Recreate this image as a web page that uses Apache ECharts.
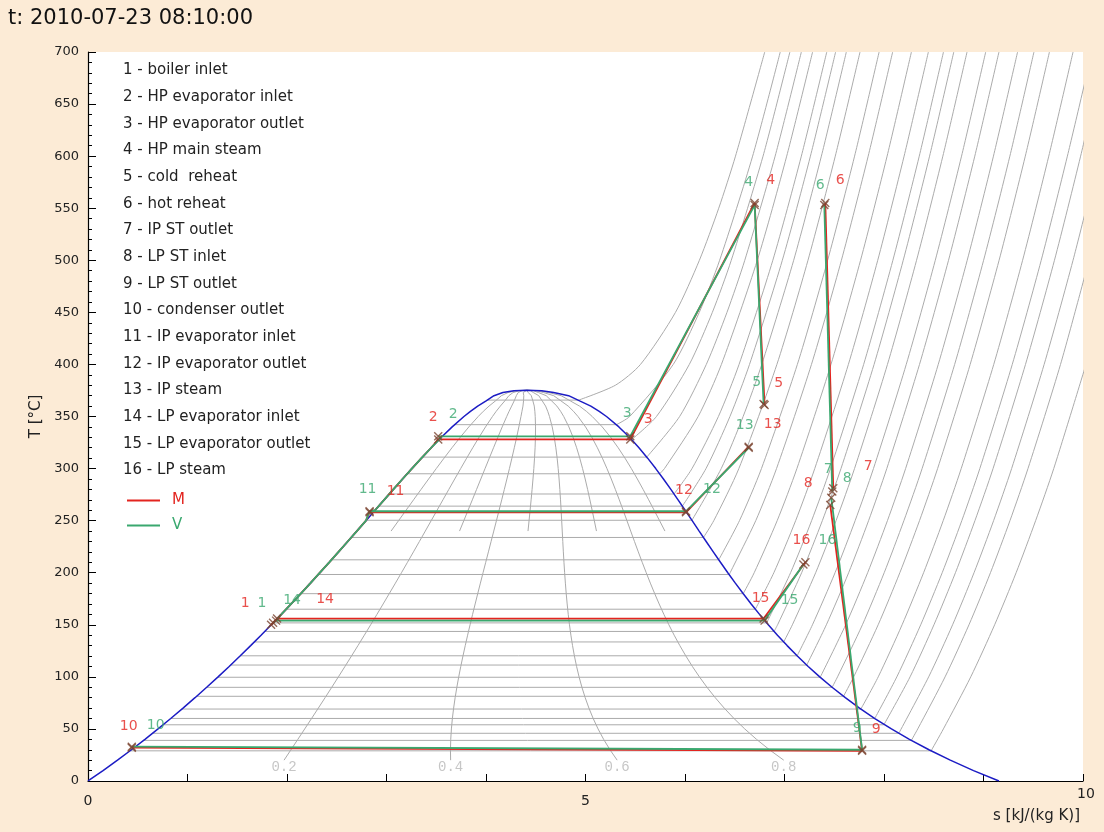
<!DOCTYPE html>
<html><head><meta charset="utf-8">
<script src="https://cdn.jsdelivr.net/npm/echarts@6/dist/echarts.min.js"></script>
<style>html,body{margin:0;padding:0;background:#fcebd6;}#c{width:1104px;height:832px;}</style>
</head><body><div id="c"></div>
<script>
// ---------- saturation dome (T in °C, s in kJ/(kg K)) ----------
const satT  = [0.01,10,20,30,40,50,60,70,80,90,100,110,120,130,140,150,160,170,180,190,200,210,220,230,240,250,260,270,280,290,300,310,320,330,340,350,355,360,365,370,373,374.8];
const satSL = [0,0.1511,0.2965,0.4368,0.5724,0.7038,0.8313,0.9551,1.0756,1.1929,1.3072,1.4188,1.5279,1.6346,1.7392,1.8418,1.9426,2.0417,2.1392,2.2355,2.3305,2.4245,2.5177,2.6101,2.7020,2.7935,2.8849,2.9765,3.0685,3.1612,3.2552,3.3510,3.4494,3.5518,3.6601,3.7784,3.8438,3.9167,4.0014,4.0800,4.1700,4.2800];
const satSV = [9.1556,8.8999,8.6661,8.4520,8.2555,8.0748,7.9081,7.7540,7.6111,7.4781,7.3541,7.2381,7.1291,7.0264,6.9293,6.8371,6.7491,6.6650,6.5840,6.5059,6.4302,6.3563,6.2840,6.2128,6.1423,6.0721,6.0016,5.9304,5.8579,5.7834,5.7059,5.6244,5.5372,5.4422,5.3356,5.2110,5.1380,5.0536,4.9412,4.8300,4.6800,4.5600];
const apexS = 4.41, apexT = 375.2;

// ---------- quality lines ----------
const qualityMain  = [0.2,0.4,0.6,0.8];
const qualityMinor = [0.1,0.3,0.5,0.7,0.9];
const qualityMainFromT = 20, qualityMinorFromT = 240;

// ---------- isobars (bar) ----------
const isoP    = [0.04,0.07,0.1,0.15,0.2,0.3,0.5,0.7,1,1.5,2,3,4,5,7,10,15,20,30,40,50,60,80,100,125,150,200];
const isoTsat = [28.96,39.0,45.81,53.97,60.06,69.09,81.32,89.95,99.61,111.35,120.21,133.52,143.61,151.83,164.95,179.88,198.29,212.38,233.85,250.35,263.94,275.59,295.01,311.0,327.81,342.16,365.75];
const isoSf   = [0.4224,0.5590,0.6492,0.7549,0.8320,0.9439,1.0912,1.1919,1.3028,1.4337,1.5302,1.6717,1.7765,1.8604,1.9918,2.1381,2.3143,2.4468,2.6454,2.7966,2.9207,3.0275,3.2077,3.3603,3.4969,3.6848,4.0146];
const isoSg   = [8.4734,8.2750,8.1488,7.9987,7.9072,7.7675,7.5931,7.4789,7.3589,7.2231,7.1270,6.9917,6.8955,6.8207,6.7071,6.5850,6.4448,6.3390,6.1856,6.0696,5.9737,5.8902,5.7450,5.6159,5.4638,5.3108,4.9310];
const sup_0_04 = [[8.597,50],[8.872,100],[9.112,150],[9.328,200],[9.524,250],[9.706,300],[10.03,400]];
const sup_0_07 = [[8.339,50],[8.614,100],[8.854,150],[9.070,200],[9.266,250],[9.447,300],[9.774,400],[10.06,500]];
const sup_0_1  = [[8.4489,100],[8.6893,150],[8.9049,200],[9.1015,250],[9.2827,300],[9.6094,400],[9.8998,500],[10.1631,600]];
const sup_0_15 = [[8.262,100],[8.502,150],[8.718,200],[8.914,250],[9.096,300],[9.422,400],[9.713,500],[9.976,600],[10.22,700]];
const sup_0_2  = [[8.129,100],[8.369,150],[8.585,200],[8.782,250],[8.963,300],[9.289,400],[9.580,500],[9.843,600],[10.09,700]];
const sup_0_3  = [[7.942,100],[8.182,150],[8.398,200],[8.595,250],[8.776,300],[9.103,400],[9.393,500],[9.656,600],[9.90,700]];
const sup_0_5  = [[7.6953,100],[7.9413,150],[8.1592,200],[8.3568,250],[8.5387,300],[8.8659,400],[9.1566,500],[9.4201,600],[9.6626,700]];
const sup_0_7  = [[7.533,100],[7.783,150],[8.002,200],[8.200,250],[8.383,300],[8.710,400],[9.001,500],[9.265,600],[9.507,700]];
const sup_1    = [[7.6148,150],[7.8356,200],[8.0346,250],[8.2171,300],[8.5452,400],[8.8362,500],[9.0999,600],[9.3424,700]];
const sup_1_5  = [[7.4208,150],[7.6447,200],[7.8451,250],[8.0280,300],[8.3568,400],[8.6484,500],[8.9124,600],[9.1553,700]];
const sup_2    = [[7.2810,150],[7.5081,200],[7.7100,250],[7.8941,300],[8.2236,400],[8.5153,500],[8.7793,600],[9.0221,700]];
const sup_3    = [[7.0792,150],[7.3132,200],[7.5181,250],[7.7037,300],[8.0347,400],[8.3271,500],[8.5915,600],[8.8345,700]];
const sup_4    = [[6.9306,150],[7.1723,200],[7.3804,250],[7.5677,300],[7.9003,400],[8.1933,500],[8.4580,600],[8.7012,700]];
const sup_5    = [[7.0611,200],[7.2726,250],[7.4614,300],[7.7954,400],[8.0891,500],[8.3543,600],[8.5977,700]];
const sup_7    = [[6.893,200],[7.112,250],[7.304,300],[7.642,400],[7.937,500],[8.202,600],[8.446,700]];
const sup_10   = [[6.6956,200],[6.9265,250],[7.1246,300],[7.4670,400],[7.7642,500],[8.0311,600],[8.2755,700]];
const sup_15   = [[6.4537,200],[6.7111,250],[6.9198,300],[7.2709,400],[7.5718,500],[7.8410,600],[8.0869,700]];
const sup_20   = [[6.5475,250],[6.7684,300],[7.1292,400],[7.4337,500],[7.7043,600],[7.9509,700]];
const sup_30   = [[6.2893,250],[6.5412,300],[6.9235,400],[7.2359,500],[7.5103,600],[7.7590,700]];
const sup_40   = [[6.3639,300],[6.5843,350],[6.7714,400],[7.0922,500],[7.3706,600],[7.6214,700]];
const sup_50   = [[6.2110,300],[6.4516,350],[6.6483,400],[6.9781,500],[7.2605,600],[7.5136,700]];
const sup_60   = [[6.0703,300],[6.3357,350],[6.5432,400],[6.8826,500],[7.1693,600],[7.4247,700]];
const sup_80   = [[5.7937,300],[6.1321,350],[6.3658,400],[6.7266,500],[7.0221,600],[7.2822,700]];
const sup_100  = [[5.9460,350],[6.2141,400],[6.4219,450],[6.6007,500],[6.9058,600],[7.1693,700]];
const sup_125  = [[5.7130,350],[6.0433,400],[6.2749,450],[6.4651,500],[6.7843,600],[7.0540,700]];
const sup_150  = [[5.4438,350],[5.8819,400],[6.1434,450],[6.3480,500],[6.6796,600],[6.9573,700]];
const sup_200  = [[5.3000,380],[5.5526,400],[5.9043,450],[6.1446,500],[6.3390,550],[6.5075,600],[6.8012,700]];
const isoSuper = [sup_0_04,sup_0_07,sup_0_1,sup_0_15,sup_0_2,sup_0_3,sup_0_5,sup_0_7,sup_1,sup_1_5,sup_2,sup_3,sup_4,sup_5,sup_7,sup_10,sup_15,sup_20,sup_30,sup_40,sup_50,sup_60,sup_80,sup_100,sup_125,sup_150,sup_200];

// ---------- cycle state points 1..16 ----------
const pointNames = ['1','2','3','4','5','6','7','8','9','10','11','12','13','14','15','16'];
const legendLines = ['1 - boiler inlet','2 - HP evaporator inlet','3 - HP evaporator outlet','4 - HP main steam','5 - cold  reheat','6 - hot reheat','7 - IP ST outlet','8 - LP ST inlet','9 - LP ST outlet','10 - condenser outlet','11 - IP evaporator inlet','12 - IP evaporator outlet','13 - IP steam','14 - LP evaporator inlet','15 - LP evaporator outlet','16 - LP steam'];
const mS = [1.84,3.52,5.45,6.70,6.80,7.41,7.49,7.46,7.78,0.44,2.83,6.01,6.64,1.90,6.79,7.21];
const mT = [150,328,328,555,361,555,281,265,29,32,258,258,321,156,156,210];
const vS = [1.86,3.52,5.45,6.70,6.79,7.40,7.48,7.47,7.78,0.44,2.83,6.01,6.64,1.89,6.80,7.19];
const vT = [152,331,331,553,362,553,278,272,30,33,259,259,320,154,154,208];
// connections ('L' = follow saturated-liquid line)
const cyclePaths = [[9,10],[1,14],[14,15,16],[14,'L',11,12,13],[11,'L',2,3,4,5],[6,7],[8,9]];

// ---------- styles ----------
const RED = '#e3241f', GREEN = '#3aa86f', GRAY = '#ababab', BLUE = '#1c1cc4';
const FONT = 'DejaVu Sans';
const mLabelOff = [[-26,-21],[-5,-22],[18,-20],[16,-23],[14,-22],[15,-23],[35,-22],[-22,-22],[14,-21],[-3,-21],[26,-21],[-2,-22],[24,-22],[48,-19],[-3,-20],[-4,-22]];
const vLabelOff = [[-11,-19],[15,-22],[-3,-23],[-6,-23],[-7,-22],[-4,-20],[-4,-22],[16,-19],[-5,-21],[24,-21],[-2,-22],[26,-22],[-4,-22],[16,-20],[25,-20],[24,-24]];

const series = [];
// isobars
isoP.forEach((p,i)=>{
  series.push({type:'line', data:[[isoSf[i],isoTsat[i]],[isoSg[i],isoTsat[i]]], symbol:'none', silent:true, z:1,
    lineStyle:{color:GRAY,width:1}});
  series.push({type:'line', data:[[isoSg[i],isoTsat[i]]].concat(isoSuper[i]), symbol:'none', silent:true, z:1,
    smooth:0.25, lineStyle:{color:GRAY,width:1}});
});
// quality lines
function qualityLine(x, fromT){
  const pts=[];
  satT.forEach((t,j)=>{ if(t>=fromT) pts.push([satSL[j]+x*(satSV[j]-satSL[j]), t]); });
  pts.push([apexS, apexT]);
  return pts;
}
qualityMain.forEach(x=>series.push({type:'line', data:qualityLine(x,qualityMainFromT), symbol:'none', silent:true, z:1, lineStyle:{color:GRAY,width:1}}));
qualityMinor.forEach(x=>series.push({type:'line', data:qualityLine(x,qualityMinorFromT), symbol:'none', silent:true, z:1, lineStyle:{color:GRAY,width:1}}));
series.push({type:'scatter', silent:true, z:2, symbolSize:1, itemStyle:{color:'rgba(0,0,0,0)'},
  data: qualityMain.map(x=>({value:qualityLine(x,qualityMainFromT)[0], name:x.toFixed(1)})),
  label:{show:true, position:'bottom', distance:0, formatter:p=>p.name, color:'#b8b8b8', fontSize:14, fontFamily:'Liberation Mono'}});
// dome
const dome = satT.map((t,j)=>[satSL[j],t]).concat([[apexS,apexT]], satT.map((t,j)=>[satSV[j],t]).reverse());
series.push({type:'line', data:dome, symbol:'none', silent:true, z:3, lineStyle:{color:BLUE,width:1.5}});

// cycle
function buildPath(path, sA, tA){
  const out=[];
  path.forEach((n,k)=>{
    if(n==='L'){
      const ta=tA[path[k-1]-1], tb=tA[path[k+1]-1];
      satT.forEach((t,j)=>{ if(t>ta && t<tb) out.push([satSL[j],t]); });
    } else out.push([sA[n-1], tA[n-1]]);
  });
  return out;
}
function addCycle(name, sA, tA, color, z){
  cyclePaths.forEach((p,k)=>{
    series.push({type:'line', name: k===0?name:undefined, color:color, data:buildPath(p,sA,tA), symbol:'none', z:z,
      itemStyle:{color:color}, lineStyle:{color:color,width:1.8}});
  });
}
addCycle('M', mS, mT, RED, 4);
addCycle('V', vS, vT, GREEN, 5);
const XSYM = 'path://M0,0L10,10M10,0L0,10';
function addMarks(sA, tA, offs, color, z){
  series.push({type:'scatter', z:z, symbol:XSYM, symbolSize:8,
    itemStyle:{color:'rgba(0,0,0,0)', borderColor:'#7a4430', borderWidth:1.4},
    data: sA.map((s,i)=>({value:[s,tA[i]], name:pointNames[i], label:{offset:offs[i]}})),
    label:{show:true, position:'inside', formatter:p=>p.name, color:color, fontSize:14, fontFamily:FONT}});
}
addMarks(mS, mT, mLabelOff, RED, 6);
addMarks(vS, vT, vLabelOff, GREEN, 7);

const option = {
  animation:false,
  backgroundColor:'#fcebd6',
  title:{text:'t: 2010-07-23 08:10:00', left:3, top:3, textStyle:{fontSize:21, fontWeight:'normal', fontFamily:FONT, color:'#111'}},
  grid:{left:88, right:21, top:52, bottom:51, show:true, backgroundColor:'#ffffff', borderWidth:0},
  legend:{orient:'vertical', left:122, top:488, icon:'rect', itemWidth:33, itemHeight:2, itemGap:10,
    textStyle:{fontSize:15, fontFamily:FONT, padding:[0,0,0,7]},
    data:[{name:'M', textStyle:{color:RED}},{name:'V', textStyle:{color:GREEN}}]},
  xAxis:{type:'value', min:0, max:10, interval:1,
    axisLine:{show:true, onZero:false, lineStyle:{color:'#000', width:1.2}},
    axisTick:{show:true, inside:true, length:7, lineStyle:{color:'#000'}},
    splitLine:{show:false},
    axisLabel:{margin:27, verticalAlign:'bottom', fontSize:14, fontFamily:FONT, color:'#222',
      formatter:v=> v===10 ? '{t|10}' : (v===0||v===5) ? String(v) : '',
      rich:{t:{fontSize:14, fontFamily:FONT, color:'#222', padding:[0,0,7,6]}}},
    name:'s [kJ/(kg K)]', nameLocation:'end', nameGap:-3,
    nameTextStyle:{fontSize:15, fontFamily:FONT, color:'#222', align:'right', verticalAlign:'top', padding:[28,0,0,0]}},
  yAxis:{type:'value', min:0, max:700, interval:50,
    axisLine:{show:true, onZero:false, lineStyle:{color:'#000', width:1.2}},
    axisTick:{show:true, inside:true, length:8, lineStyle:{color:'#000'}},
    minorTick:{show:true, splitNumber:5, length:4, lineStyle:{color:'#000'}},
    splitLine:{show:false},
    axisLabel:{margin:9, fontSize:13, fontFamily:FONT, color:'#222'},
    name:'T [°C]', nameLocation:'middle', nameGap:44,
    nameTextStyle:{fontSize:15, fontFamily:FONT, color:'#222'}},
  graphic:[{type:'text', left:123, top:57, silent:true,
    style:{text:legendLines.join('\n'), fontSize:15, fontFamily:FONT, fill:'#222', lineHeight:26.67}}],
  series:series
};
const chart = echarts.init(document.getElementById('c'), null, {renderer:'canvas'});
chart.setOption(option);
</script>
</body></html>
